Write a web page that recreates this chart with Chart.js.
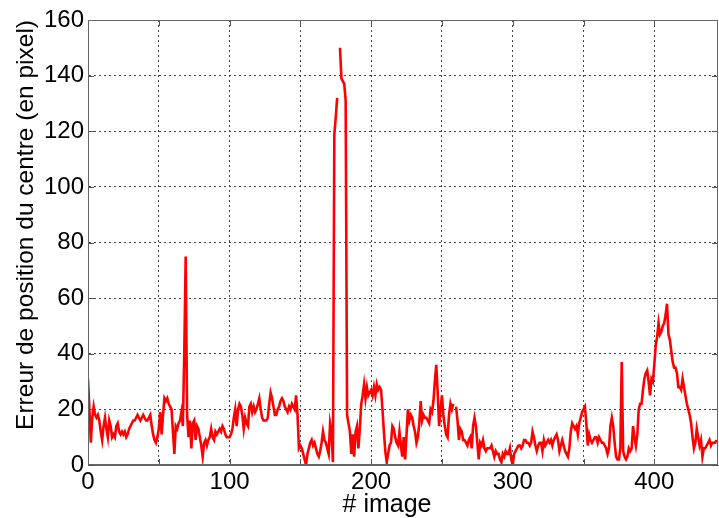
<!DOCTYPE html>
<html>
<head>
<meta charset="utf-8">
<script src="https://cdn.jsdelivr.net/npm/chart.js@4/dist/chart.umd.min.js"></script>
<style>
  html, body { margin: 0; padding: 0; background: #fff; }
  canvas { display: block; }
</style>
</head>
<body>
<canvas id="errChart" width="719" height="518"></canvas>
<script>
// Center position error per frame (pixels); null = missing frame
const positionError = [
    31, 20, 8, 17, 21, 18, 17, 18, 16, 12,
    9, 14, 17, 13, 10, 16, 14, 10, 11, 10,
    14, 15, 12, 11, 12, 11, 12, 10, 11, 13,
    14, 15, 16, 16, 17, 18, 17, 16, 17, 18,
    17, 16, 16, 17, 18, 14, 11, 9, 8, 10,
    13, 19, 11, 18, 24, 23, 24, 22, 21, 20,
    12, 4, 14, 13, 15, 16, 19, 14, 40, 75,
    18, 10, 16, 6, 15, 16, 9, 14, 13, 10,
    7, 3, 8, 9, 7, 9, 10, 13, 10, 9,
    12, 11, 12, 13, 12, 14, 13, 11, 10, 10,
    10, 11, 13, 17, 20, 14, 20, 22, 21, 18,
    13, 17, 15, 14, 21, 22, 19, 21, 19, 20,
    22, 24, 20, 17, 16, 16, 16, 17, 22, 26,
    24, 21, 18, 18, 20, 21, 23, 24, 23, 21,
    20, 19, 21, 20, 22, 21, 20, 25, 18, 6,
    7, 6, 4, 2, 0, 4, 6, 8, 9, 7,
    8, 6, 4, 3, 5, 8, 12, 9, 8, 6,
    4, 15, 12, 1, 119, 125, 132, null, 150, 139,
    138, 137, 131, 18, 15, 12, 4, 11, 3, 12,
    14, 6, 13, 22, 25, 29, 24, 28, 25, 26,
    27, 25, 28, 25, 29, 27, 28, 27, 20, 12,
    5, 1, 4, 7, 8, 14, 13, 10, 8, 7,
    12, 7, 3, 10, 2, 11, 20, 16, 18, 17,
    14, 12, 8, 10, 15, 23, 16, 18, 17, 17,
    16, 15, 20, 19, 23, 30, 36, 26, 14, 20,
    25, 18, 14, 11, 10, 18, 22, 20, 22, null,
    21, 16, 9, 13, 12, 9, 9, 8, 7, 9,
    10, 6, 14, 17, 14, 8, 2, 8, 7, 9,
    6, 5, 6, 6, 6, 7, 5, 3, 5, 4,
    4, 2, 1, 4, 3, 5, 4, 4, 6, 2,
    0, 4, 5, 6, 7, 7, 6, 7, 9, 9,
    8, 8, 7, 8, 12, 10, 7, 5, 7, 8,
    8, 5, 9, 7, 8, 9, 8, 9, 7, 9,
    10, 11, 9, 5, 7, 9, 7, 5, 4, 3,
    6, 12, 15, 14, 13, 14, 11, 15, 17, 19,
    20, 21, 15, 7, 11, 9, 8, 9, 10, 10,
    8, 10, 9, 8, 8, 7, 6, 4, 6, 14,
    17, 14, 8, 3, 2, 2, 6, 37, 5, 3,
    2, 3, 6, 5, 6, 14, 10, 7, 11, 20,
    22, 22, 27, 31, 33, 34, 30, 25, 31, 30,
    36, 43, 46, 51, 47, 48, 50, 51, 54, 58,
    47, 45, 41, 37, 35, 35, 33, 28, 28, 27,
    31, 28, 25, 22, 20, 18, 15, 10, 6, 8,
    13, 10, 7, 9, 3, 6, 6, 7, 8, 9,
    7, 8, 8, 8, 9
];
// frame numbers (# image)
const frameNumbers = positionError.map((_, i) => i);

const xTicks = [0, 100, 200, 300, 400];
const yTicks = [0, 20, 40, 60, 80, 100, 120, 140, 160];
const xMax = 445;
const xTitle = '# image';
const yTitle = 'Erreur de position du centre (en pixel)';

const fontFamily = 'Liberation Sans, Arial, sans-serif';
const tickFont = { family: fontFamily, size: 24 };

// box around the plot, small inward tick marks and the x label (matlab style)
const boxPlugin = {
    id: 'boxPlugin',
    afterDraw(chart) {
        const { ctx, chartArea: a, scales } = chart;
        ctx.save();
        ctx.strokeStyle = '#555';
        ctx.lineWidth = 1;
        ctx.beginPath();
        scales.x.ticks.forEach(t => {
            const px = Math.round(scales.x.getPixelForValue(t.value)) + 0.5;
            ctx.moveTo(px, a.bottom); ctx.lineTo(px, a.bottom - 6);
            ctx.moveTo(px, a.top); ctx.lineTo(px, a.top + 6);
        });
        scales.y.ticks.forEach(t => {
            const py = Math.round(scales.y.getPixelForValue(t.value)) + 0.5;
            ctx.moveTo(a.left, py); ctx.lineTo(a.left + 6, py);
            ctx.moveTo(a.right, py); ctx.lineTo(a.right - 6, py);
        });
        ctx.stroke();
        ctx.strokeStyle = '#666';
        ctx.strokeRect(a.left + 0.5, a.top + 0.5, a.right - a.left - 1, a.bottom - a.top - 1);

        // x label sits a bit left of the axes centre in the original
        ctx.fillStyle = '#000';
        ctx.font = '25px ' + fontFamily;
        ctx.textAlign = 'center';
        ctx.textBaseline = 'middle';
        ctx.fillText(xTitle, (a.left + a.right) / 2 - 16, 505);
        ctx.restore();
    }
};

const ctx = document.getElementById('errChart').getContext('2d');
new Chart(ctx, {
    type: 'line',
    data: {
        datasets: [{
            data: frameNumbers.map((f, i) => ({ x: f, y: positionError[i] })),
            borderColor: '#ff0000',
            borderWidth: 2.6,
            pointRadius: 0,
            tension: 0,
            spanGaps: false
        }]
    },
    options: {
        responsive: false,
        animation: false,
        devicePixelRatio: 1,
        layout: { padding: { top: 20, right: 1, left: 0, bottom: 0 } },
        plugins: { legend: { display: false }, tooltip: { enabled: false } },
        scales: {
            x: {
                type: 'linear',
                min: 0,
                max: xMax,
                afterFit: s => { s.height = 53; },
                ticks: {
                    stepSize: 50,
                    includeBounds: false,
                    autoSkip: false,
                    maxRotation: 0,
                    padding: 3,
                    color: '#000',
                    font: tickFont,
                    callback: v => xTicks.includes(v) ? String(v) : ''
                },
                grid: { color: '#444', lineWidth: 1, drawTicks: false },
                border: { color: '#666', width: 1, dash: [2, 3] }
            },
            y: {
                min: 0,
                max: 160,
                afterFit: s => { s.width = 88; },
                ticks: {
                    stepSize: 20,
                    padding: 4,
                    color: '#000',
                    font: tickFont,
                    callback: v => yTicks.includes(v) ? String(v) : ''
                },
                grid: { color: '#444', lineWidth: 1, drawTicks: false },
                border: { color: '#666', width: 1, dash: [2, 3] },
                title: {
                    display: true,
                    text: yTitle,
                    align: 'end',
                    color: '#000',
                    font: { family: fontFamily, size: 24.5, lineHeight: 1 },
                    padding: { top: 14, bottom: 0 }
                }
            }
        }
    },
    plugins: [boxPlugin]
});
</script>
</body>
</html>
